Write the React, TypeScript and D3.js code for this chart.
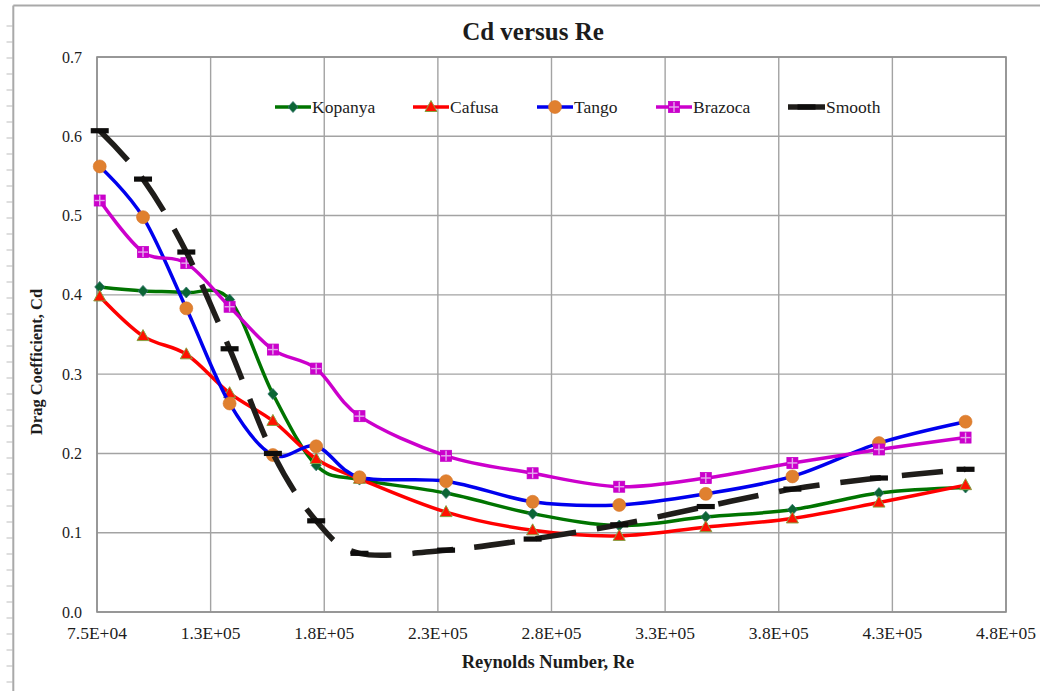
import React from 'react';
import * as d3 from 'd3';

// Reynolds numbers of the test points (shared by every series)
const reynolds = [76200, 95250, 114300, 133350, 152400, 171450, 190500, 228600, 266700, 304800, 342900, 381000, 419100, 457200];

// Drag coefficient per ball
const kopanya = [0.410, 0.405, 0.403, 0.394, 0.275, 0.185, 0.167, 0.150, 0.124, 0.109, 0.120, 0.129, 0.150, 0.157];
const cafusa = [0.398, 0.348, 0.325, 0.276, 0.241, 0.193, 0.168, 0.126, 0.103, 0.096, 0.107, 0.118, 0.138, 0.160];
const tango = [0.562, 0.498, 0.383, 0.263, 0.198, 0.209, 0.170, 0.165, 0.139, 0.135, 0.149, 0.171, 0.213, 0.240];
const brazoca = [0.519, 0.454, 0.440, 0.385, 0.331, 0.307, 0.247, 0.197, 0.175, 0.158, 0.169, 0.188, 0.205, 0.220];
const smooth = [0.607, 0.546, 0.454, 0.332, 0.200, 0.115, 0.074, 0.078, 0.092, 0.110, 0.133, 0.155, 0.169, 0.180];

const seriesNames = ['Kopanya', 'Cafusa', 'Tango', 'Brazoca', 'Smooth'];

const xTickValues = [75000, 125000, 175000, 225000, 275000, 325000, 375000, 425000, 475000];
const xTickLabels = ['7.5E+04', '1.3E+05', '1.8E+05', '2.3E+05', '2.8E+05', '3.3E+05', '3.8E+05', '4.3E+05', '4.8E+05'];
const yTickValues = [0, 0.1, 0.2, 0.3, 0.4, 0.5, 0.6, 0.7];
const yTickLabels = ['0.0', '0.1', '0.2', '0.3', '0.4', '0.5', '0.6', '0.7'];

const W = 1040;
const H = 691;
const plot = { left: 97, right: 1006, top: 57, bottom: 612 };
const FONT = "'Liberation Serif', 'Times New Roman', serif";
const TEXT = '#1c1c1c';

type Style = {
  stroke: string;
  width: number;
  dash?: string;
  marker: 'diamond' | 'triangle' | 'circle' | 'squarePlus' | 'dash';
};

const styles: Style[] = [
  { stroke: '#007400', width: 3.5, marker: 'diamond' },
  { stroke: '#ff0000', width: 3.5, marker: 'triangle' },
  { stroke: '#0000ee', width: 3.5, marker: 'circle' },
  { stroke: '#cc00cc', width: 3.5, marker: 'squarePlus' },
  { stroke: '#1f1d1a', width: 5.5, dash: '41 21', marker: 'dash' },
];

// legend placement: start of sample line, start of text
const legendLayout = [
  { x0: 275, tx: 312 },
  { x0: 413, tx: 450 },
  { x0: 537, tx: 574 },
  { x0: 656, tx: 693 },
  { x0: 788, tx: 826 },
];
const legendY = 107;

function Marker({ kind, cx, cy }: { kind: Style['marker']; cx: number; cy: number }) {
  switch (kind) {
    case 'diamond':
      return (
        <path
          d={`M${cx},${cy - 5.5}L${cx + 5},${cy}L${cx},${cy + 5.5}L${cx - 5},${cy}Z`}
          fill="#0b6634"
          stroke="#2e6f6a"
          strokeWidth={0.8}
        />
      );
    case 'triangle':
      return (
        <path
          d={`M${cx},${cy - 6.5}L${cx + 6},${cy + 4.5}L${cx - 6},${cy + 4.5}Z`}
          fill="#ff1200"
          stroke="#86a040"
          strokeWidth={1}
        />
      );
    case 'circle':
      return <circle cx={cx} cy={cy} r={6.5} fill="#e0802f" stroke="#d77528" strokeWidth={0.6} />;
    case 'squarePlus':
      return (
        <g>
          <rect x={cx - 5.5} y={cy - 5.5} width={11} height={11} fill="#cc00cc" stroke="#c400c8" strokeWidth={0.8} />
          <line x1={cx} y1={cy - 5} x2={cx} y2={cy + 5} stroke="#e4a8ec" strokeWidth={1.4} />
          <line x1={cx - 5} y1={cy} x2={cx + 5} y2={cy} stroke="#e4a8ec" strokeWidth={1.4} />
        </g>
      );
    case 'dash':
    default:
      return <rect x={cx - 9} y={cy - 2.6} width={18} height={5.2} fill="#0e0d0c" />;
  }
}

export default function App() {
  const x = d3.scaleLinear().domain([75000, 475000]).range([plot.left, plot.right]);
  const y = d3.scaleLinear().domain([0, 0.7]).range([plot.bottom, plot.top]);

  const series = [kopanya, cafusa, tango, brazoca, smooth];

  const line = d3
    .line<number>()
    .x((_, i) => x(reynolds[i]))
    .y((d) => y(d))
    .curve(d3.curveCardinal);

  const rulerTicks = d3.range(26, H - 4, 16);

  return (
    <svg
      width={W}
      height={H}
      viewBox={`0 0 ${W} ${H}`}
      style={{ position: 'absolute', left: 0, top: 0, display: 'block', background: '#fff' }}
    >
      <rect x={0} y={0} width={W} height={H} fill="#fff" />

      {/* page ruler marks and chart frame */}
      {rulerTicks.map((t) => (
        <line key={t} x1={6.5} x2={12.5} y1={t} y2={t} stroke="#cdcdcd" strokeWidth={1.3} />
      ))}
      <line x1={13.3} x2={13.3} y1={5.5} y2={H} stroke="#a9a9a9" strokeWidth={2} />
      <line x1={13.3} x2={W} y1={5.5} y2={5.5} stroke="#a9a9a9" strokeWidth={2} />

      {/* title */}
      <text x={533} y={40} textAnchor="middle" fontFamily={FONT} fontWeight="bold" fontSize={25} fill={TEXT}>
        Cd versus Re
      </text>

      {/* grid */}
      {yTickValues.map((v) => (
        <line key={'gy' + v} x1={plot.left} x2={plot.right} y1={y(v)} y2={y(v)} stroke="#a3a3a3" strokeWidth={1.4} />
      ))}
      {xTickValues.map((v) => (
        <line key={'gx' + v} x1={x(v)} x2={x(v)} y1={plot.top} y2={plot.bottom} stroke="#a3a3a3" strokeWidth={1.4} />
      ))}
      <rect
        x={plot.left}
        y={plot.top}
        width={plot.right - plot.left}
        height={plot.bottom - plot.top}
        fill="none"
        stroke="#8f8f8f"
        strokeWidth={1.6}
      />

      {/* tick labels */}
      {yTickValues.map((v, i) => (
        <text key={'ty' + v} x={82} y={y(v) + 5.5} textAnchor="end" fontFamily={FONT} fontSize={16} fill={TEXT}>
          {yTickLabels[i]}
        </text>
      ))}
      {xTickValues.map((v, i) => (
        <text key={'tx' + v} x={x(v)} y={639} textAnchor="middle" fontFamily={FONT} fontSize={17.5} fill={TEXT}>
          {xTickLabels[i]}
        </text>
      ))}

      {/* axis titles */}
      <text x={548} y={668} textAnchor="middle" fontFamily={FONT} fontWeight="bold" fontSize={18.5} fill={TEXT}>
        Reynolds Number, Re
      </text>
      <text
        transform="translate(42,362) rotate(-90)"
        textAnchor="middle"
        fontFamily={FONT}
        fontWeight="bold"
        fontSize={16.5}
        fill={TEXT}
      >
        Drag Coefficient, Cd
      </text>

      {/* series */}
      {series.map((vals, si) => {
        const st = styles[si];
        return (
          <g key={seriesNames[si]}>
            <path
              d={line(vals) || ''}
              fill="none"
              stroke={st.stroke}
              strokeWidth={st.width}
              strokeDasharray={st.dash}
              strokeLinejoin="round"
            />
            {vals.map((v, i) => (
              <Marker key={i} kind={st.marker} cx={x(reynolds[i])} cy={y(v)} />
            ))}
          </g>
        );
      })}

      {/* legend */}
      {seriesNames.map((name, si) => {
        const st = styles[si];
        const L = legendLayout[si];
        return (
          <g key={'lg' + name}>
            <line
              x1={L.x0}
              x2={L.tx - 1}
              y1={legendY}
              y2={legendY}
              stroke={st.stroke}
              strokeWidth={st.width}
            />
            <Marker kind={st.marker} cx={(L.x0 + L.tx - 1) / 2} cy={legendY} />
            <text x={L.tx} y={legendY + 6} fontFamily={FONT} fontSize={17.5} fill={TEXT}>
              {name}
            </text>
          </g>
        );
      })}
    </svg>
  );
}
